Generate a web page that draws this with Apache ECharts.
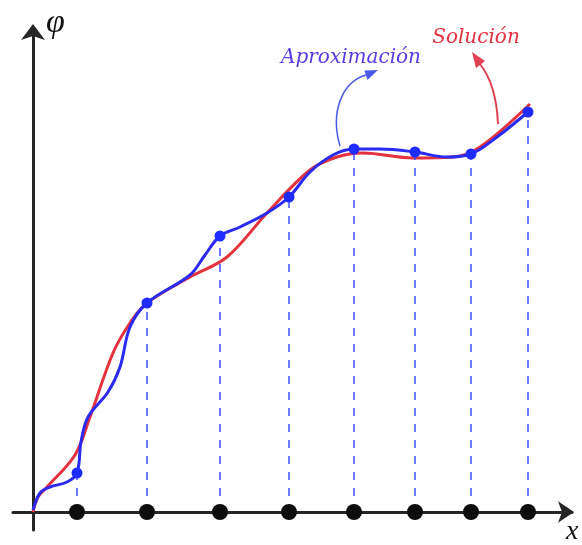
<!DOCTYPE html>
<html>
<head>
<meta charset="utf-8">
<style>html,body{margin:0;padding:0;background:#fff;}#c{width:582px;height:545px;}</style>
<script src="https://cdn.jsdelivr.net/npm/echarts@6/dist/echarts.min.js"></script>
</head>
<body>
<div id="c"></div>
<script>
// Node positions (x) and approximation values at nodes
var nodeX = [44, 114, 187, 256, 321, 382, 438, 495];
var nodeY = [39, 209, 276, 315, 363, 360, 358, 400];

// Exact solution curve (red)
var solX = [0, 5, 14, 42, 57, 80, 97, 114, 157, 194, 234, 277, 304, 330, 380, 420, 447, 497];
var solY = [0, 15, 25, 57, 95, 159, 189, 209, 235, 255, 299, 342, 355, 359, 354, 355, 365, 408];

// Approximation curve (blue)
var apxX = [0, 7, 17, 34, 44, 48, 55, 75, 87, 97, 114, 157, 172, 187, 207, 234, 256, 277, 300, 321, 347, 382, 414, 438, 464, 495];
var apxY = [2, 19, 25, 30, 39, 70, 95, 120, 145, 185, 209, 237, 257, 276, 285, 299, 315, 340, 357, 363, 363, 360, 355, 358, 375, 400];

var labelPhi = 'φ';
var labelX = 'x';
var labelApx = 'Aproximación';
var labelSol = 'Solución';

function zip(a, b) { return a.map(function (v, i) { return [v, b[i]]; }); }

var chart = echarts.init(document.getElementById('c'));
var BLUE = '#2a2af0';
var RED = '#e5323f';

chart.setOption({
  animation: false,
  backgroundColor: '#fff',
  grid: { left: 13, right: 10, top: 30, bottom: 15 },
  xAxis: {
    type: 'value', min: -20, max: 539,
    axisLine: { show: true, onZero: true, symbol: ['none', 'arrow'], symbolSize: [16, 16], symbolOffset: [0, 2],
      lineStyle: { color: '#262626', width: 3 } },
    axisTick: { show: false }, axisLabel: { show: false }, splitLine: { show: false }
  },
  yAxis: {
    type: 'value', min: -18, max: 482,
    axisLine: { show: true, onZero: true, symbol: ['none', 'arrow'], symbolSize: [18, 16], symbolOffset: [0, 6],
      lineStyle: { color: '#262626', width: 3 } },
    axisTick: { show: false }, axisLabel: { show: false }, splitLine: { show: false }
  },
  series: [
    {
      type: 'scatter', data: [], silent: true,
      markLine: {
        silent: true, symbol: ['none', 'none'], label: { show: false },
        lineStyle: { color: '#3f50ff', width: 1.5, type: [8, 8], opacity: 1 },
        data: nodeX.map(function (x, i) { return [{ coord: [x, 0] }, { coord: [x, nodeY[i]] }]; })
      }
    },
    {
      type: 'line', data: zip(solX, solY), smooth: 0.35, showSymbol: false,
      lineStyle: { color: RED, width: 3 }, z: 3
    },
    {
      type: 'line', data: zip(apxX, apxY), smooth: 0.35, showSymbol: false,
      lineStyle: { color: BLUE, width: 3 }, z: 4
    },
    {
      type: 'scatter', data: zip(nodeX, nodeY), symbolSize: 11,
      itemStyle: { color: '#1f2cff', opacity: 1 }, z: 5
    },
    {
      type: 'scatter', data: nodeX.map(function (x) { return [x, 0]; }), symbolSize: 16,
      itemStyle: { color: '#0d0d0d', opacity: 1 }, z: 6
    }
  ],
  graphic: [
    { type: 'text', left: 46, top: 6, style: { text: labelPhi, font: 'italic 34px "Liberation Serif"', fill: '#111' } },
    { type: 'text', x: 566, y: 518, style: { text: labelX, font: 'italic 28px "Liberation Serif"', fill: '#111' } },
    { type: 'text', x: 351, y: 58, style: { text: labelApx, font: 'italic 20px "DejaVu Serif"', fill: '#5a3ce6', align: 'center', verticalAlign: 'middle' } },
    { type: 'text', x: 476, y: 38, style: { text: labelSol, font: 'italic 20px "DejaVu Serif"', fill: '#e5323f', align: 'center', verticalAlign: 'middle' } },
    { type: 'bezierCurve', shape: { x1: 340, y1: 146, cpx1: 330, cpy1: 112, cpx2: 342, cpy2: 82, x2: 366, y2: 75 },
      style: { stroke: '#4a5ae8', lineWidth: 1.5, fill: null } },
    { type: 'polygon', shape: { points: [[378, 70], [364.5, 70.5], [367.5, 80]] }, style: { fill: '#4a5ae8' } },
    { type: 'bezierCurve', shape: { x1: 498, y1: 124, cpx1: 497, cpy1: 100, cpx2: 491, cpy2: 78, x2: 480, y2: 64 },
      style: { stroke: '#e04050', lineWidth: 2, fill: null } },
    { type: 'polygon', shape: { points: [[472, 52], [485, 61], [476, 68]] }, style: { fill: '#e04050' } }
  ]
});
</script>
</body>
</html>
